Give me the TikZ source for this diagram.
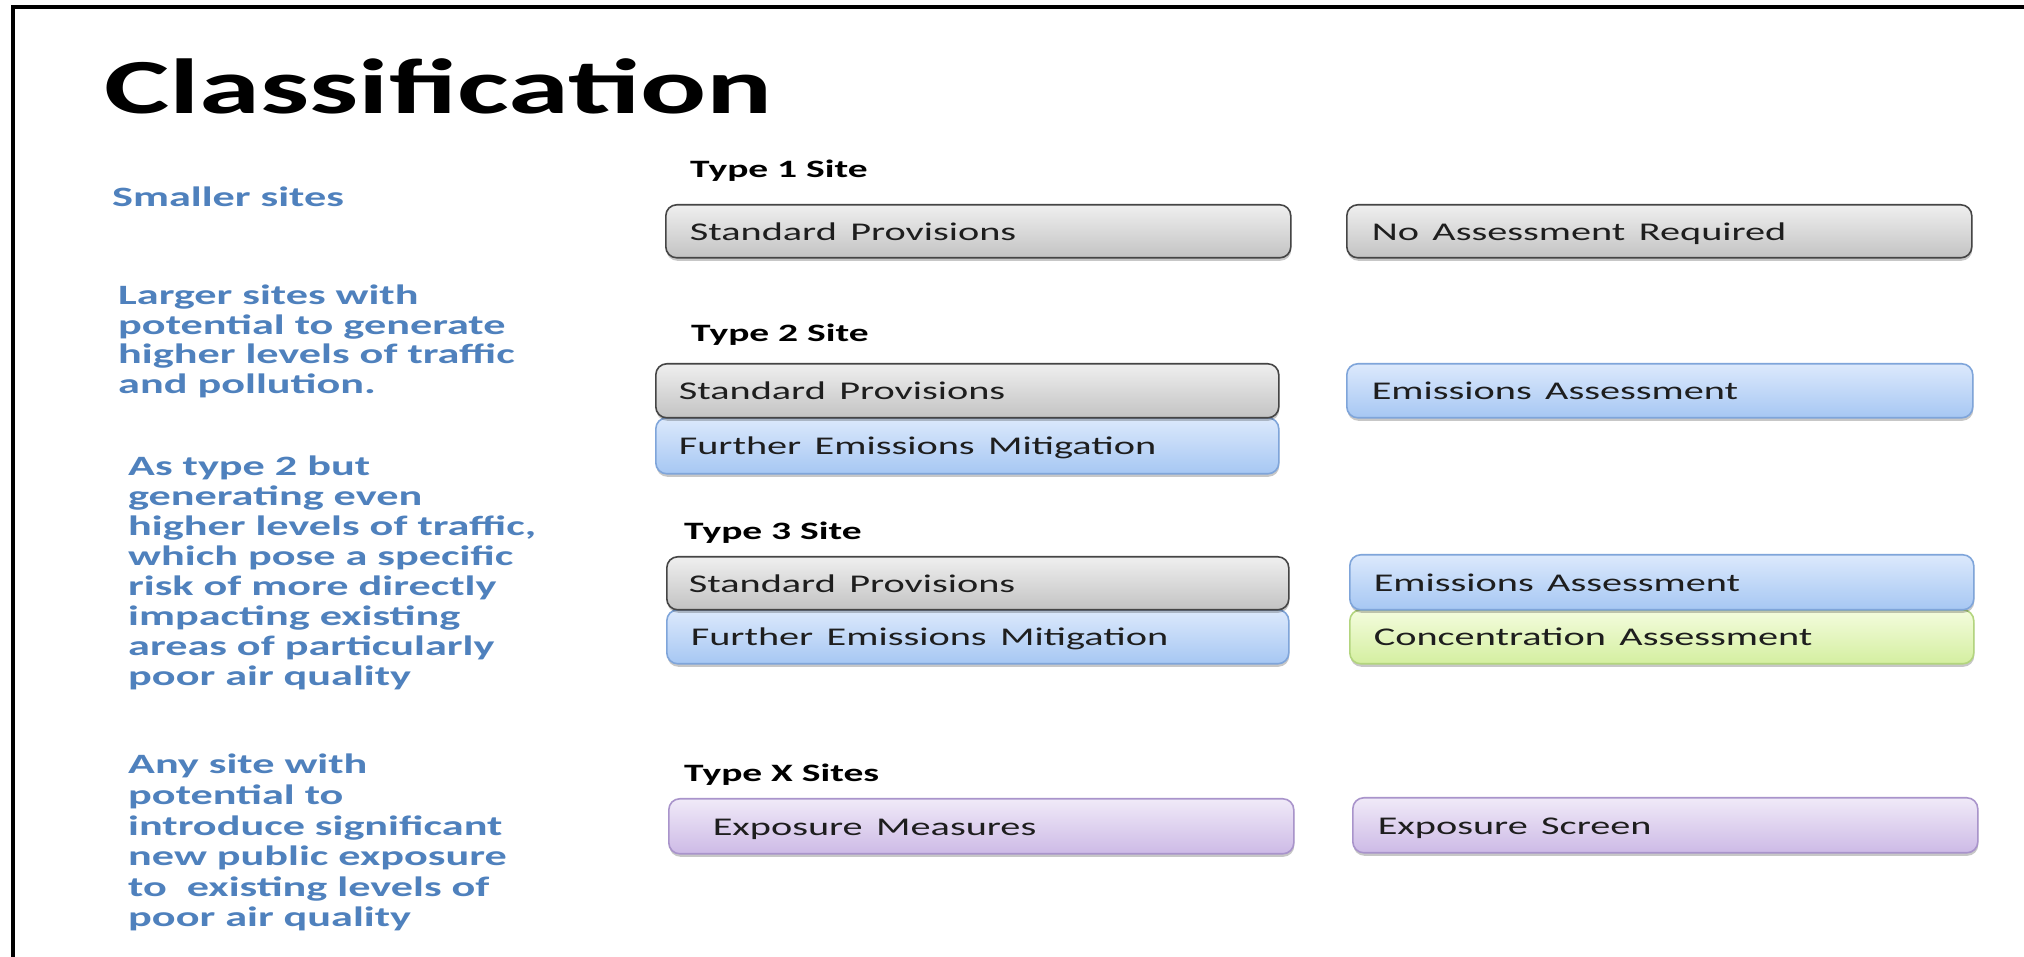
\documentclass[tikz,border=0pt]{standalone}
\usepackage{fontspec}
\usepackage{graphicx}
\setmainfont{Carlito}
\usetikzlibrary{shadows}

\definecolor{noteblue}{HTML}{4F81BD}
\definecolor{boxtext}{HTML}{1E1E1E}
\definecolor{grayTop}{HTML}{EFEFEF}
\definecolor{grayBot}{HTML}{C3C3C3}
\definecolor{grayLine}{HTML}{454545}
\definecolor{blueTop}{HTML}{DCE9FC}
\definecolor{blueBot}{HTML}{A6C7F3}
\definecolor{blueLine}{HTML}{7FA5DA}
\definecolor{greenTop}{HTML}{F4FCDE}
\definecolor{greenBot}{HTML}{D4EFA0}
\definecolor{greenLine}{HTML}{B3D57E}
\definecolor{purpleTop}{HTML}{F0EAF8}
\definecolor{purpleBot}{HTML}{CDBAE6}
\definecolor{purpleLine}{HTML}{A994CB}

% the slide is set wide: every text run is stretched sideways
\newcommand\stretchtext[1]{\scalebox{1.58}[1]{#1}}

\tikzset{
  notetext/.style={anchor=base west, inner sep=0pt, text=noteblue},
  typelabel/.style={anchor=base west, inner sep=0pt, text=black,
    font=\fontsize{25}{28}\selectfont\bfseries},
  panel/.style={anchor=north west, rounded corners=11pt, line width=1.6pt,
    text=boxtext, font=\fontsize{25.5}{28}\selectfont, align=left,
    text height=20pt, text depth=2pt, inner ysep=0pt,
    drop shadow={shadow xshift=0.5pt, shadow yshift=-3pt, opacity=0.22, fill=black}},
  graypanel/.style={panel, draw=grayLine, top color=grayTop, bottom color=grayBot},
  bluepanel/.style={panel, draw=blueLine, top color=blueTop, bottom color=blueBot},
  greenpanel/.style={panel, draw=greenLine, top color=greenTop, bottom color=greenBot},
  purplepanel/.style={panel, draw=purpleLine, top color=purpleTop, bottom color=purpleBot},
}

\begin{document}
\begin{tikzpicture}[x=1pt, y=1pt]
\fill[white] (0,0) rectangle (2024,957);
\useasboundingbox (0,0) rectangle (2024,957);

% slide frame: left and top edges
\coordinate (frameBL) at (13,0);
\coordinate (frameTL) at (13,950);
\coordinate (frameTR) at (2024,950);
\draw[line width=4pt, line cap=rect] (frameBL) -- (frameTL) -- (frameTR);

% heading
\node[anchor=base west, inner sep=0pt, font=\fontsize{78}{82}\selectfont\bfseries] (title)
  at (104,843) {\stretchtext{Classification}};

% descriptions on the left
\node[notetext, font=\fontsize{28}{30}\selectfont\bfseries] (smaller) at (112,750)
  {\stretchtext{Smaller sites}};
\node[notetext, font=\fontsize{28}{29.5}\selectfont\bfseries] (larger) at (118,652)
  {\stretchtext{\begin{tabular}[t]{@{}l@{}}Larger sites with\\ potential to generate\\ higher levels of traffic\\ and pollution.\end{tabular}}};
\node[notetext, font=\fontsize{28}{30}\selectfont\bfseries] (astype) at (128,481)
  {\stretchtext{\begin{tabular}[t]{@{}l@{}}As type 2 but\\ generating even\\ higher levels of traffic,\\ which pose a specific\\ risk of more directly\\ impacting existing\\ areas of particularly\\ poor air quality\end{tabular}}};
\node[notetext, font=\fontsize{28}{30.6}\selectfont\bfseries] (anysite) at (128,183)
  {\stretchtext{\begin{tabular}[t]{@{}l@{}}Any site with\\ potential to\\ introduce significant\\ new public exposure\\ to\ \ existing levels of\\ poor air quality\end{tabular}}};

% site type headings
\node[typelabel] (type1) at (690,779) {\stretchtext{Type 1 Site}};
\node[typelabel] (type2) at (691,615) {\stretchtext{Type 2 Site}};
\node[typelabel] (type3) at (684,417) {\stretchtext{Type 3 Site}};
\node[typelabel] (typeX) at (684,175) {\stretchtext{Type X Sites}};

% Type 1
\node[graypanel, minimum width=625pt, minimum height=53pt, inner xsep=24pt, text width=577pt]
  (sp1) at (665,753) {\stretchtext{Standard Provisions}};
\node[graypanel, minimum width=625pt, minimum height=53pt, inner xsep=25pt, text width=575pt]
  (nar1) at (1346,753) {\stretchtext{No Assessment Required}};

% Type 2
\node[bluepanel, minimum width=623pt, minimum height=56pt, inner xsep=23pt, text width=577pt]
  (fem2) at (655,540) {\stretchtext{Further Emissions Mitigation}};
\node[graypanel, minimum width=623pt, minimum height=54pt, inner xsep=23pt, text width=577pt]
  (sp2) at (655,594) {\stretchtext{Standard Provisions}};
\node[bluepanel, minimum width=626pt, minimum height=54pt, inner xsep=25pt, text width=576pt]
  (ea2) at (1346,594) {\stretchtext{Emissions Assessment}};

% Type 3
\node[bluepanel, minimum width=622pt, minimum height=54pt, inner xsep=24pt, text width=574pt]
  (fem3) at (666,348) {\stretchtext{Further Emissions Mitigation}};
\node[graypanel, minimum width=622pt, minimum height=53pt, inner xsep=22pt, text width=578pt]
  (sp3) at (666,401) {\stretchtext{Standard Provisions}};
\node[greenpanel, minimum width=624pt, minimum height=54pt, inner xsep=24pt, text width=576pt]
  (ca3) at (1349,348) {\stretchtext{Concentration Assessment}};
\node[bluepanel, minimum width=624pt, minimum height=55pt, inner xsep=24pt, text width=576pt]
  (ea3) at (1349,403) {\stretchtext{Emissions Assessment}};

% Type X
\node[purplepanel, minimum width=625pt, minimum height=55pt, inner xsep=44pt, text width=537pt]
  (em) at (668,159) {\stretchtext{Exposure Measures}};
\node[purplepanel, minimum width=625pt, minimum height=55pt, inner xsep=25pt, text width=575pt]
  (es) at (1352,160) {\stretchtext{Exposure Screen}};
\end{tikzpicture}
\end{document}
